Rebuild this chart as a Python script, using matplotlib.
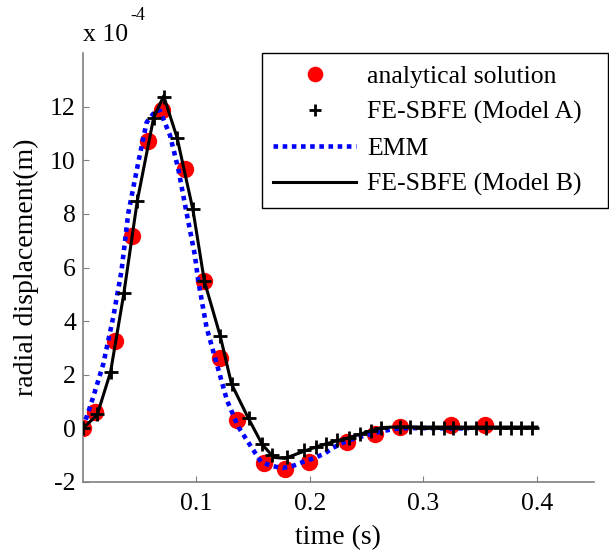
import numpy as np
import matplotlib
matplotlib.use("Agg")
import matplotlib.pyplot as plt

# analytical solution (red dots), values in 1e-4 m
t_exact = [0, 0.0106, 0.028, 0.043, 0.057, 0.070, 0.090, 0.1065, 0.121, 0.136,
           0.160, 0.178, 0.199, 0.233, 0.257, 0.279, 0.324, 0.354]
u_exact = [0, 0.6, 3.26, 7.18, 10.74, 11.89, 9.67, 5.51, 2.61, 0.31,
           -1.31, -1.50, -1.27, -0.51, -0.2, 0.05, 0.14, 0.11]

# FE-SBFE (Model A), plus markers
t_a = [0, 0.0126, 0.0244, 0.036, 0.048, 0.0624, 0.0712, 0.083, 0.097, 0.107,
       0.121, 0.131, 0.146, 0.158, 0.167, 0.180, 0.195, 0.205, 0.214, 0.224,
       0.234, 0.244, 0.254, 0.263, 0.279, 0.288, 0.298, 0.308, 0.318, 0.326,
       0.337, 0.346, 0.355, 0.367, 0.377, 0.386, 0.396]
u_a = [0, 0.52, 2.12, 5.05, 8.49, 11.57, 12.35, 10.83, 8.17, 5.5,
       3.45, 1.66, 0.38, -0.57, -0.98, -1.06, -0.82, -0.69, -0.57, -0.45,
       -0.35, -0.22, -0.1, 0.02, 0.05, 0.05, 0.03, 0.02, 0.02, 0.02,
       0.02, 0.02, 0.02, 0.02, 0.02, 0.02, 0.02]

# EMM, blue dotted
t_emm = [0, 0.0091, 0.018, 0.0267, 0.034, 0.040, 0.0489, 0.0562, 0.065, 0.068,
         0.0768, 0.084, 0.0912, 0.0986, 0.1017, 0.109, 0.118, 0.127, 0.137, 0.150,
         0.157, 0.166, 0.176, 0.185, 0.194, 0.203, 0.213, 0.220, 0.2305, 0.239,
         0.2495, 0.258, 0.268, 0.277, 0.286, 0.30, 0.32, 0.34]
u_emm = [0, 1.16, 2.40, 4.13, 5.86, 8.02, 9.94, 11.42, 11.9, 11.85,
         10.93, 9.69, 8.08, 6.48, 5.49, 3.76, 2.4, 1.04, 0.05, -0.8,
         -1.25, -1.4, -1.48, -1.4, -1.25, -1.12, -0.94, -0.73, -0.51, -0.38,
         -0.26, -0.16, -0.07, -0.01, 0.01, 0.01, 0.0, 0.0]

# FE-SBFE (Model B), black line
t_b = [0, 0.0126, 0.0244, 0.036, 0.048, 0.0624, 0.0712, 0.083, 0.097, 0.107,
       0.121, 0.131, 0.146, 0.158, 0.168, 0.178, 0.195, 0.205, 0.214, 0.224,
       0.234, 0.244, 0.254, 0.263, 0.279, 0.30, 0.35, 0.40]
u_b = [0, 0.5, 2.1, 5.0, 8.5, 11.6, 12.4, 10.85, 8.15, 5.5,
       3.45, 1.65, 0.36, -0.6, -1.08, -1.12, -0.85, -0.7, -0.58, -0.46,
       -0.35, -0.22, -0.08, 0.03, 0.06, 0.05, 0.05, 0.05]

plt.rcParams['font.family'] = ['Liberation Serif', 'DejaVu Serif']
fs = 18.5

fig = plt.figure(figsize=(6.09, 5.54), dpi=100)
ax = fig.add_axes([0.136, 0.130, 0.839, 0.774])

ax.plot(t_exact, u_exact, 'o', color='red', markersize=12.5, markeredgewidth=0,
        label='analytical solution', zorder=2)
ax.plot(t_a, u_a, '+', color='black', markersize=10, markeredgewidth=2,
        label='FE-SBFE (Model A)', zorder=4)
ax.plot(t_emm, u_emm, color='blue', linewidth=3.3, dashes=(1, 1.0),
        dash_capstyle='butt', label='EMM', zorder=3)
ax.plot(t_b, u_b, color='black', linewidth=2.2, label='FE-SBFE (Model B)', zorder=4)

ax.set_xlim(0, 0.45)
ax.set_ylim(-2, 14)
ax.set_xticks([0.1, 0.2, 0.3, 0.4])
ax.set_xticklabels(['0.1', '0.2', '0.3', '0.4'])
ax.set_yticks([-2, 0, 2, 4, 6, 8, 10, 12])
ax.set_yticklabels(['-2', '0', '2', '4', '6', '8', '10', '12'])

for s in ['top', 'right']:
    ax.spines[s].set_visible(False)
for s in ['left', 'bottom']:
    ax.spines[s].set_color('#808080')
    ax.spines[s].set_linewidth(1.2)
ax.tick_params(direction='in', length=4, color='#808080', labelsize=fs,
               labelcolor='black')
ax.tick_params(axis='x', pad=8)
ax.tick_params(axis='y', pad=5)

ax.set_xlabel('time (s)', fontsize=20, labelpad=7)
ax.set_ylabel('radial displacement(m)', fontsize=20, labelpad=8)

fig.text(83 / 609, 1 - 35 / 554, 'x 10', fontsize=fs, va='center', ha='left')
fig.text(130 / 609, 1 - 16 / 554, '-4', fontsize=13, va='center', ha='left')

leg = ax.legend(loc='upper left', bbox_to_anchor=(0.430, 0.632, 0.568, 0.272),
                mode='expand', bbox_transform=fig.transFigure, borderaxespad=0,
                fontsize=fs, fancybox=False, framealpha=1, edgecolor='black',
                handlelength=3.2, handletextpad=0.45, labelspacing=0.5,
                borderpad=0.45, markerscale=0.9)
leg.get_frame().set_linewidth(1.0)

fig.savefig('out.png', dpi=100)
